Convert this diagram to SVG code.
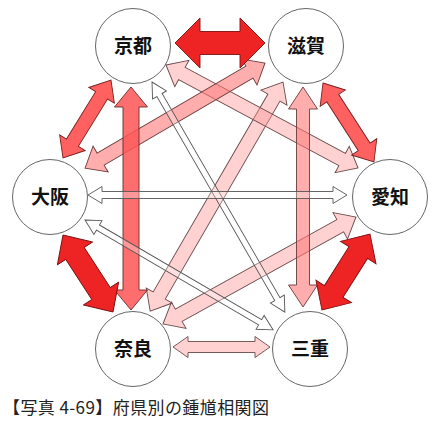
<svg xmlns="http://www.w3.org/2000/svg" width="441" height="426" viewBox="0 0 441 426">
<style>
.node circle{fill:#fff;stroke:#666;stroke-width:1}
.node text{font-family:"Noto Sans CJK JP","Noto Sans",sans-serif;font-weight:bold;font-size:19px;fill:#111;text-anchor:middle}
.a{stroke-width:0.9;stroke-linejoin:miter}
.big{fill:#ee2424;stroke:#7a1010}
.red{fill:#f44;fill-opacity:0.85;stroke:#7a2020}
.mid{fill:#f55;fill-opacity:0.85;stroke:#6a2a2a}
.pk{fill:#f77;fill-opacity:0.6;stroke:#6a3a3a}
.lt{fill:#f99;fill-opacity:0.45;stroke:#6a4a4a}
.wh{fill:#fff;fill-opacity:0.3;stroke:#555}
.cap{font-family:"Noto Sans CJK JP","Noto Sans",sans-serif;font-size:17px;fill:#222}
</style>
<rect width="441" height="426" fill="#fff"/>
<g id="nodes">
<g id="kyoto" class="node"><circle cx="133" cy="46" r="37.5"/><text x="133" y="53">京都</text></g>
<g id="shiga" class="node"><circle cx="306" cy="46" r="37.5"/><text x="306" y="53">滋賀</text></g>
<g id="osaka" class="node"><circle cx="50" cy="197" r="37.5"/><text x="50" y="204">大阪</text></g>
<g id="aichi" class="node"><circle cx="390" cy="197" r="37.5"/><text x="390" y="204">愛知</text></g>
<g id="nara" class="node"><circle cx="133" cy="349" r="37.5"/><text x="133" y="356">奈良</text></g>
<g id="mie" class="node"><circle cx="310" cy="349" r="37.5"/><text x="310" y="356">三重</text></g>
</g>
<g id="connectors">
<polygon class="a lt" transform="translate(283,82) rotate(120.1)" points="0,0 18,-15 18,-7 246.8,-7 246.8,-15 264.8,0 246.8,15 246.8,7 18,7 18,15"/>
<polygon class="a lt" transform="translate(356,217) rotate(151)" points="0,0 18,-15 18,-7 202.7,-7 202.7,-15 220.7,0 202.7,15 202.7,7 18,7 18,15"/>
<polygon class="a lt" transform="translate(173,347) rotate(0)" points="0,0 15,-10.5 15,-5.5 82,-5.5 82,-10.5 97,0 82,10.5 82,5.5 15,5.5 15,10.5"/>
<polygon class="a lt" transform="translate(166,65) rotate(28.2)" points="0,0 18,-15 18,-7 199.9,-7 199.9,-15 217.9,0 199.9,15 199.9,7 18,7 18,15"/>
<polygon class="a pk" transform="translate(265,63) rotate(149.7)" points="0,0 18,-15 18,-7 190.4,-7 190.4,-15 208.4,0 190.4,15 190.4,7 18,7 18,15"/>
<polygon class="a pk" transform="translate(303,87) rotate(90)" points="0,0 22,-14.5 22,-6.5 198,-6.5 198,-14.5 220,0 198,14.5 198,6.5 22,6.5 22,14.5"/>
<polygon class="a mid" transform="translate(131,87) rotate(90)" points="0,0 20,-16.5 20,-8 203,-8 203,-16.5 223,0 203,16.5 203,8 20,8 20,16.5"/>
<polygon class="a wh" transform="translate(152,82) rotate(60)" points="0,0 15,-8 15,-3 250.7,-3 250.7,-8 265.7,0 250.7,8 250.7,3 15,3 15,8"/>
<polygon class="a wh" transform="translate(85,220) rotate(30.3)" points="0,0 15,-8 15,-3 202.8,-3 202.8,-8 217.8,0 202.8,8 202.8,3 15,3 15,8"/>
<polygon class="a wh" transform="translate(88,195) rotate(0)" points="0,0 14,-8.5 14,-3.5 245,-3.5 245,-8.5 259,0 245,8.5 245,3.5 14,3.5 14,8.5"/>
<polygon class="a red" transform="translate(111,80) rotate(121.6)" points="0,0 18,-15 18,-7 73.6,-7 73.6,-15 91.6,0 73.6,15 73.6,7 18,7 18,15"/>
<polygon class="a red" transform="translate(323,83) rotate(57.2)" points="0,0 18,-15 18,-7 76,-7 76,-15 94,0 76,15 76,7 18,7 18,15"/>
<polygon class="a big" transform="translate(175,43) rotate(0)" points="0,0 25,-25 25,-11.5 65,-11.5 65,-25 90,0 65,25 65,11.5 25,11.5 25,25"/>
<polygon class="a big" transform="translate(63,235) rotate(57)" points="0,0 22,-21 22,-11 69.8,-11 69.8,-21 91.8,0 69.8,21 69.8,11 22,11 22,21"/>
<polygon class="a big" transform="translate(370,234) rotate(122.3)" points="0,0 22,-21 22,-11 67.9,-11 67.9,-21 89.9,0 67.9,21 67.9,11 22,11 22,21"/>
</g>
<text class="cap" x="3" y="414" textLength="266" lengthAdjust="spacing">【写真 4-69】府県別の鍾馗相関図</text>
</svg>
